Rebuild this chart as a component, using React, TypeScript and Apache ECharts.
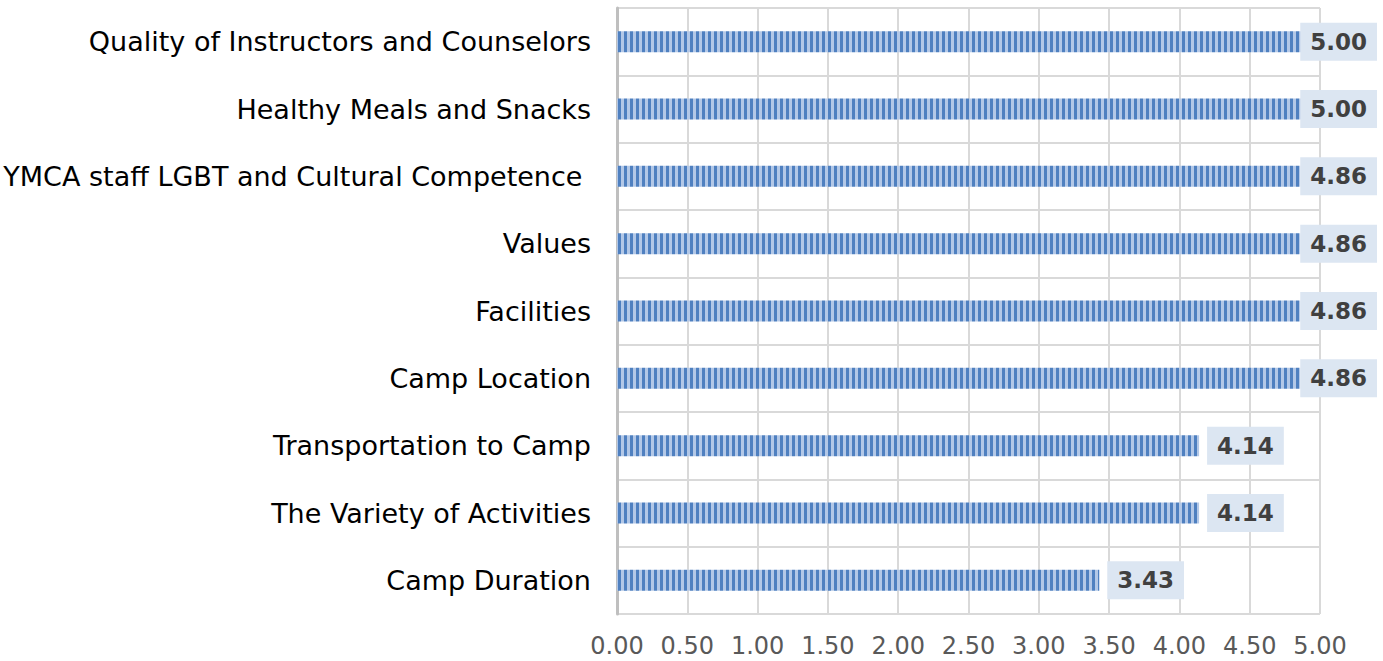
import React, { useEffect, useRef } from 'react';
import * as echarts from 'echarts';

const categories = [
  'Quality of Instructors and Counselors',
  'Healthy Meals and Snacks',
  'YMCA staff LGBT and Cultural Competence ',
  'Values',
  'Facilities',
  'Camp Location',
  'Transportation to Camp',
  'The Variety of Activities',
  'Camp Duration',
];
const values = [5.0, 5.0, 4.86, 4.86, 4.86, 4.86, 4.14, 4.14, 3.43];
const xMin = 0;
const xMax = 5;
const xStep = 0.5;

const WIDTH = 1383;
const HEIGHT = 661;
const LABEL_RIGHT_LIMIT = 1377;

function makeStripe(): HTMLCanvasElement {
  const c = document.createElement('canvas');
  c.width = 6;
  c.height = 4;
  const ctx = c.getContext('2d')!;
  ctx.fillStyle = '#b3c8e7';
  ctx.fillRect(0, 0, 6, 4);
  ctx.fillStyle = '#4f80c0';
  ctx.fillRect(0, 0, 3, 4);
  return c;
}

export default function App() {
  const ref = useRef<HTMLDivElement>(null);
  useEffect(() => {
    document.body.style.margin = '0';
    if (!ref.current) return;
    const chart = echarts.init(ref.current, null, { renderer: 'svg' });
    const stripe = makeStripe();
    chart.setOption({
      animation: false,
      grid: { left: 617, right: WIDTH - 1320, top: 8, bottom: HEIGHT - 614, containLabel: false },
      xAxis: {
        type: 'value',
        min: xMin,
        max: xMax,
        interval: xStep,
        axisLine: { show: false },
        axisTick: { show: false },
        splitLine: { show: true, lineStyle: { color: '#d9d9d9', width: 2 } },
        axisLabel: {
          formatter: (v: number) => v.toFixed(2),
          color: '#595959',
          fontSize: 24,
          fontFamily: 'DejaVu Sans',
          margin: 20,
        },
      },
      yAxis: {
        type: 'category',
        data: categories,
        inverse: true,
        axisTick: { show: false },
        axisLine: { show: true, lineStyle: { color: '#bfbfbf', width: 3 } },
        splitLine: { show: true, lineStyle: { color: '#d9d9d9', width: 2 } },
        axisLabel: {
          color: '#000000',
          fontSize: 27,
          fontFamily: 'DejaVu Sans',
          margin: 26,
        },
      },
      series: [
        {
          type: 'bar',
          data: values,
          barWidth: 21,
          itemStyle: { color: { image: stripe, repeat: 'repeat' } },
          label: {
            show: true,
            position: 'right',
            distance: 8,
            formatter: (p: any) => Number(p.value).toFixed(2),
            fontFamily: 'DejaVu Sans',
            fontWeight: 'bold',
            fontSize: 23,
            lineHeight: 28,
            color: '#404040',
            backgroundColor: '#dce6f2',
            padding: [5, 10, 5, 10],
          },
          labelLayout: (params: any) => {
            const r = params.labelRect;
            const over = r.x + r.width - LABEL_RIGHT_LIMIT;
            return over > 0 ? { dx: -over } : {};
          },
        },
      ],
    });
    return () => chart.dispose();
  }, []);
  return <div ref={ref} style={{ width: WIDTH, height: HEIGHT }} />;
}
